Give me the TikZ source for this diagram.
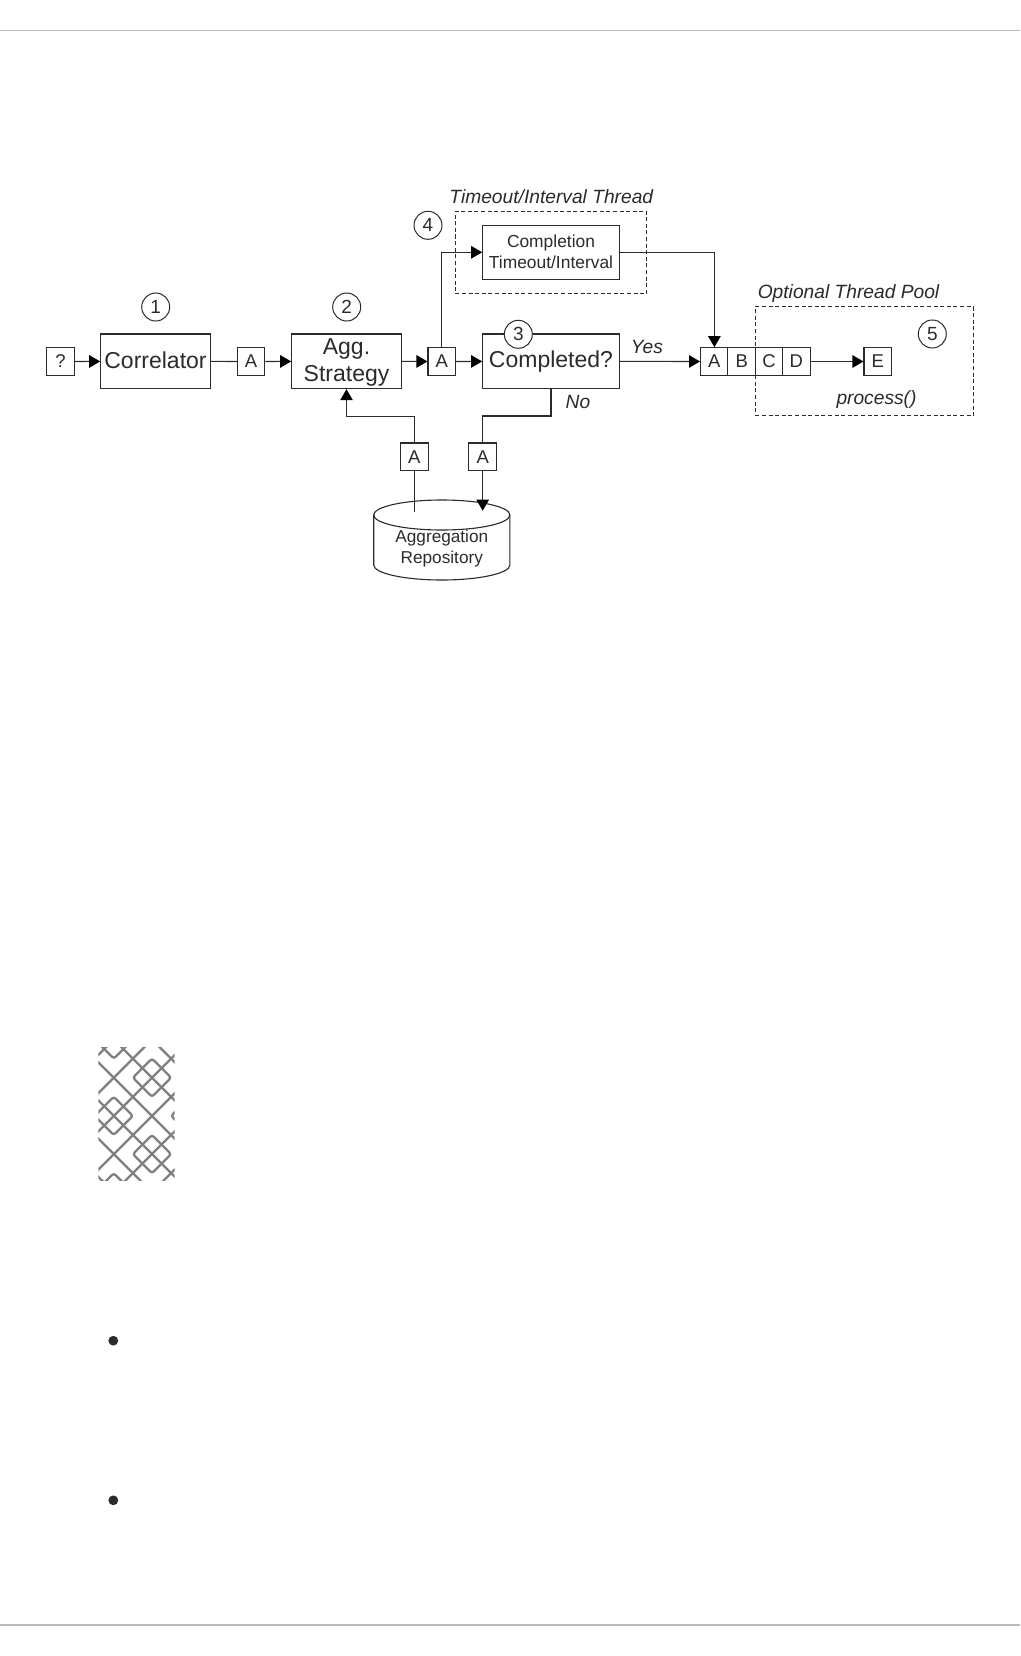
\documentclass[tikz,border=0pt]{standalone}
\usepackage{fontspec}
\setmainfont{Liberation Sans}
\usetikzlibrary{arrows.meta}
\definecolor{ink}{HTML}{2B2B2B}
\definecolor{rulegray}{HTML}{BBBBBB}
\definecolor{markgray}{HTML}{808080}
\newcommand{\fs}[2]{\fontsize{#1}{#2}\selectfont}
\tikzset{
  x=1pt,y=-1pt,
  box/.style={draw=ink,line width=1.1pt,inner sep=0pt,align=center,text=ink,fill=white},
  bigbox/.style={box,minimum width=109.5pt,font=\fs{23}{27}},
  msg/.style={box,minimum width=27.6pt,minimum height=27.6pt,font=\fs{18.5}{22}},
  num/.style={circle,draw=ink,line width=1pt,fill=white,minimum size=28pt,inner sep=0pt,text=ink,font=\fs{19}{22}},
  lab/.style={inner sep=0pt,text=ink,font=\fs{19.2}{22}\itshape},
  link/.style={draw=ink,line width=1.1pt},
  flow/.style={link,-{Triangle[length=11pt,width=12.5pt,color=black]}},
  zone/.style={draw=ink,line width=1pt,dash pattern=on 4pt off 2.6pt},
  pageline/.style={draw=rulegray,line width=1.7pt},
  lattice/.style={draw=markgray,line width=2.3pt}
}
\begin{document}
\begin{tikzpicture}
\useasboundingbox (0,0) rectangle (1020,1656);
\fill[white] (0,0) rectangle (1020,1656);
\draw[pageline] (0,30.6) -- (1020,30.6);
\draw[pageline] (0,1624.7) -- (1020,1624.7);

% dashed zones
\node[zone,minimum width=191.4pt,minimum height=82.4pt,inner sep=0pt] (tzone) at (551,252.5) {};
\node[lab] (tlab) at (551.3,196.5) {Timeout/Interval Thread};

% nodes
\node[msg] (q) at (60.5,361.5) {?};
\node[bigbox,minimum height=54.7pt,text depth=2.5pt] (corr) at (155.5,361.3) {Correlator};
\node[msg] (a1) at (251.1,361.5) {A};
\node[bigbox,minimum height=54.7pt] (agg) at (346.5,361.3) {\rule{0pt}{18pt}Agg.\\Strategy};
\node[msg] (a2) at (441.8,361.5) {A};
\node[box,minimum width=136.6pt,minimum height=54.7pt,font=\fs{23}{27}] (comp) at (551,361.3) {Completed?};
\node[box,minimum width=136.6pt,minimum height=54pt,font=\fs{17.4}{20.6}] (tbox) at (551,252.3) {Completion\\Timeout/Interval\rule[-1.2pt]{0pt}{1pt}};
\node[msg] (qa) at (714.4,361.5) {A};
\node[msg] (qb) at (741.7,361.5) {B};
\node[msg] (qc) at (769,361.5) {C};
\node[msg] (qd) at (796.3,361.5) {D};
\node[msg] (e) at (877.8,361.5) {E};
\node[msg] (a3) at (414.3,456.8) {A};
\node[msg] (a4) at (482.7,456.8) {A};

\node[zone,minimum width=218pt,minimum height=109.3pt,inner sep=0pt] (ozone) at (864.3,361.3) {};
\node[lab] (olab) at (848.5,293.5) {Optional Thread Pool};

% circled numbers
\node[num] (n1) at (155.7,307) {1};
\node[num] (n2) at (346.7,307) {2};
\node[num] (n3) at (518.3,334.3) {3};
\node[num] (n4) at (428,225.3) {4};
\node[num] (n5) at (932.3,334) {5};

% edge labels
\node[lab] (yes) at (647,347) {Yes};
\node[lab] (no) at (578,401.5) {No};
\node[lab] (proc) at (876.5,399.5) {process()};

% repository
\draw[draw=ink,line width=1.1pt,fill=white]
  (373.7,515) .. controls (373.7,506.7) and (404.2,500) .. (441.8,500)
  .. controls (479.4,500) and (509.9,506.7) .. (509.9,515)
  -- (509.9,565) .. controls (509.9,573.3) and (479.4,580) .. (441.8,580)
  .. controls (404.2,580) and (373.7,573.3) .. (373.7,565) -- cycle;
\draw[draw=ink,line width=1.1pt]
  (373.7,515) .. controls (373.7,523.3) and (404.2,530) .. (441.8,530)
  .. controls (479.4,530) and (509.9,523.3) .. (509.9,515);
\node[inner sep=0pt,align=center,text=ink,font=\fs{17.2}{20.8}] (repo) at (441.8,548.5) {Aggregation\\Repository};
\coordinate (repoa) at (414.3,511.7);
\coordinate (repob) at (482.7,510.7);

% helper bends
\coordinate (b1) at (346.5,416.5);
\coordinate (b2) at (551,416);
\coordinate (b5) at (482.7,416);

% connectors
\draw[flow] (q) -- (corr);
\draw[link] (corr) -- (a1);
\draw[flow] (a1) -- (agg);
\draw[flow] (agg) -- (a2);
\draw[flow] (a2) -- (comp);
\draw[flow] (comp) -- (qa);
\draw[flow] (qd) -- (e);
\draw[flow] (a2.north) |- (tbox.west);
\draw[flow] (tbox.east) -| (qa.north);
\draw[link] (comp.south) -- (b2) -- (b5) -- (a4.north);
\draw[flow] (a4.south) -- (repob);
\draw[link] (repoa) -- (a3.south);
\draw[flow] (a3.north) |- (b1) -- (agg.south);

% note mark
\begin{scope}
\clip (98.3,1047.3) rectangle (174.6,1180.8);
\foreach \k in {-5,...,5}{
  \pgfmathsetmacro{\dd}{925.7+38.2*\k}
  \pgfmathsetmacro{\ss}{1229.7+38.2*\k}
  \draw[lattice] (90,90+\dd) -- (180,180+\dd);
  \draw[lattice] (90,\ss-90) -- (180,\ss-180);
}
\foreach \cx/\cy in {152/1077.7,113.8/1115.9,152/1154.1,190.2/1115.9,113.8/1039.5,113.8/1192.3}{
  \draw[lattice,rounded corners=2.5pt] (\cx,\cy-19.1) -- (\cx+19.1,\cy) -- (\cx,\cy+19.1) -- (\cx-19.1,\cy) -- cycle;
}
\end{scope}

% list bullets
\fill[ink] (113.3,1340.7) circle[radius=4.9];
\fill[ink] (113.3,1500.3) circle[radius=4.9];
\end{tikzpicture}
\end{document}
